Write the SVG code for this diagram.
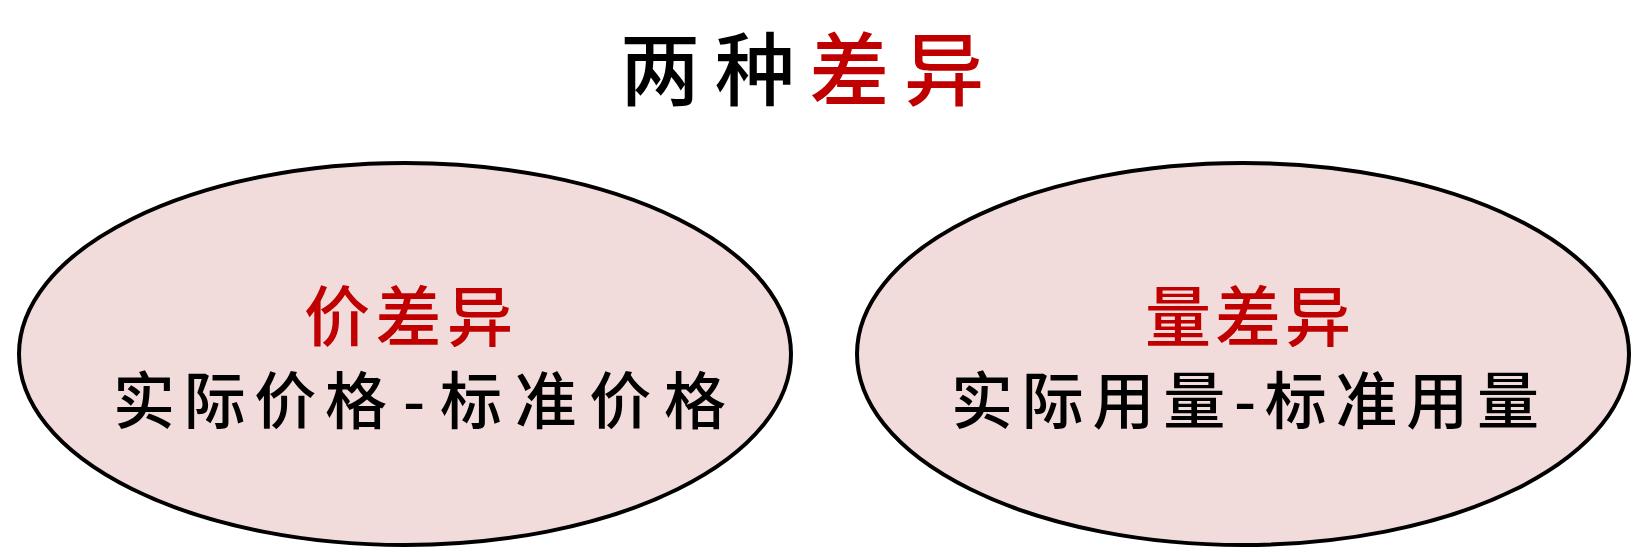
<svg xmlns="http://www.w3.org/2000/svg" width="1642" height="558" viewBox="0 0 1642 558">
<style>
.t{font-family:"Noto Sans CJK SC","Noto Sans CJK JP",sans-serif;font-weight:500;}
.red{fill:#c00000;}
.blk{fill:#000;}
.ell{fill:#f2dcdb;stroke:#000;stroke-width:4;}
</style>
<rect width="1642" height="558" fill="#fff"/>
<g id="title">
<text class="t" x="620" y="99" font-size="80" font-weight="700" textLength="364" lengthAdjust="spacing"><tspan class="blk">两种</tspan><tspan class="red">差异</tspan></text>
</g>
<g id="price-variance">
<ellipse class="ell" cx="405" cy="354" rx="386" ry="191"/>
<text class="t red" x="304" y="341" font-size="66" textLength="209" lengthAdjust="spacing">价差异</text>
<text class="t blk" x="113" y="424" font-size="62" textLength="274" lengthAdjust="spacing">实际价格</text>
<text class="t blk" x="403" y="424" font-size="62" font-weight="700">-</text>
<text class="t blk" x="440" y="424" font-size="62" textLength="286" lengthAdjust="spacing">标准价格</text>
</g>
<g id="quantity-variance">
<ellipse class="ell" cx="1243" cy="354" rx="386" ry="191"/>
<text class="t red" x="1145" y="341" font-size="66" textLength="206" lengthAdjust="spacing">量差异</text>
<text class="t blk" x="951" y="424" font-size="62" textLength="588" lengthAdjust="spacing">实际用量-标准用量</text>
</g>
<g id="connectors"/>
</svg>
